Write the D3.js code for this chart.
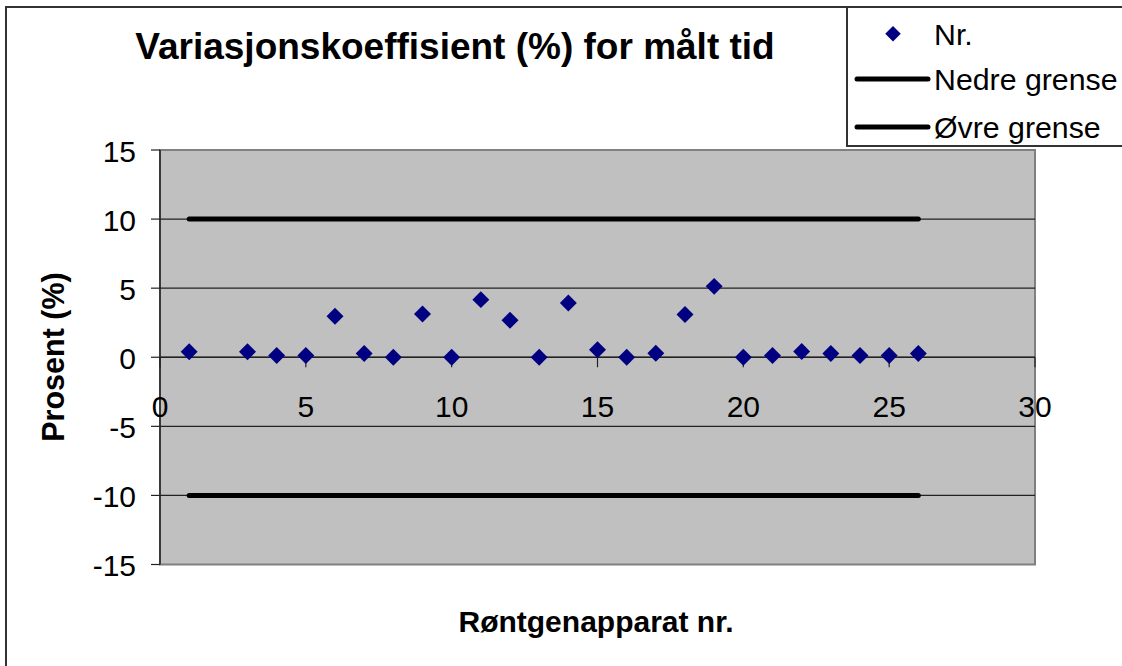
<!DOCTYPE html>
<html>
<head>
<meta charset="utf-8">
<script src="https://cdn.jsdelivr.net/npm/d3@7"></script>
<style>
  html, body { margin: 0; padding: 0; background: #fff; }
  svg { display: block; font-family: "Liberation Sans", Arial, sans-serif; }
</style>
</head>
<body>
<svg id="chart" width="1122" height="666"></svg>
<script>
// ---- Data ----
const apparatNr = [1, 3, 4, 5, 6, 7, 8, 9, 10, 11, 12, 13, 14, 15, 16, 17, 18, 19, 20, 21, 22, 23, 24, 25, 26];
const cvValues  = [0.4, 0.4, 0.12, 0.12, 2.96, 0.27, 0.0, 3.13, 0.0, 4.17, 2.67, 0.0, 3.93, 0.55, 0.0, 0.29, 3.1, 5.13, 0.0, 0.12, 0.41, 0.27, 0.12, 0.12, 0.27];
const limitX    = [1, 26];
const nedreGrense = [-10, -10];
const ovreGrense  = [10, 10];
const xTicks = [0, 5, 10, 15, 20, 25, 30];
const yTicks = [-15, -10, -5, 0, 5, 10, 15];
const titleText = "Variasjonskoeffisient (%) for målt tid";
const xTitle = "Røntgenapparat nr.";
const yTitle = "Prosent (%)";
const legendLabels = ["Nr.", "Nedre grense", "Øvre grense"];

// ---- Layout ----
const svg = d3.select("#chart");
const plot = { left: 160, right: 1035, top: 150, bottom: 564.5 };
const x = d3.scaleLinear().domain([0, 30]).range([plot.left, plot.right]);
const y = d3.scaleLinear().domain([-15, 15]).range([plot.bottom, plot.top]);

// outer chart border
svg.append("rect").attr("x", 6).attr("y", 7).attr("width", 1200).attr("height", 700)
  .attr("fill", "#fff").attr("stroke", "#333").attr("stroke-width", 2);

// plot area background
svg.append("rect").attr("x", plot.left).attr("y", plot.top)
  .attr("width", plot.right - plot.left).attr("height", plot.bottom - plot.top)
  .attr("fill", "#c0c0c0").attr("stroke", "#808080").attr("stroke-width", 2);

// gridlines
svg.append("g").selectAll("line").data(yTicks.filter(d => d > -15 && d < 15)).join("line")
  .attr("x1", plot.left).attr("x2", plot.right)
  .attr("y1", d => y(d)).attr("y2", d => y(d))
  .attr("stroke", "#222").attr("stroke-width", 1.2);

// y axis line + ticks + labels
svg.append("line").attr("x1", plot.left).attr("x2", plot.left)
  .attr("y1", plot.top).attr("y2", plot.bottom).attr("stroke", "#222").attr("stroke-width", 1.5);
const yAx = svg.append("g");
yAx.selectAll("line").data(yTicks).join("line")
  .attr("x1", plot.left - 9).attr("x2", plot.left)
  .attr("y1", d => y(d)).attr("y2", d => y(d))
  .attr("stroke", "#222").attr("stroke-width", 1.2);
yAx.selectAll("text").data(yTicks).join("text")
  .attr("x", 136).attr("y", d => y(d) + 11.5)
  .attr("text-anchor", "end").attr("font-size", 30).attr("fill", "#000")
  .text(d => d);

// x axis at y=0
svg.append("line").attr("x1", plot.left).attr("x2", plot.right)
  .attr("y1", y(0)).attr("y2", y(0)).attr("stroke", "#222").attr("stroke-width", 1.5);
const xAx = svg.append("g");
xAx.selectAll("line").data(xTicks).join("line")
  .attr("x1", d => x(d)).attr("x2", d => x(d))
  .attr("y1", y(0)).attr("y2", y(0) + 10)
  .attr("stroke", "#222").attr("stroke-width", 1.2);
xAx.selectAll("text").data(xTicks).join("text")
  .attr("x", d => x(d)).attr("y", 417)
  .attr("text-anchor", "middle").attr("font-size", 30).attr("fill", "#000")
  .text(d => d);

// limit lines
const lineGen = d3.line().x(d => x(d[0])).y(d => y(d[1]));
[nedreGrense, ovreGrense].forEach(arr => {
  svg.append("path").datum(limitX.map((v, i) => [v, arr[i]]))
    .attr("d", lineGen).attr("fill", "none")
    .attr("stroke", "#000").attr("stroke-width", 5).attr("stroke-linecap", "round");
});

// diamonds
svg.append("g").selectAll("rect").data(apparatNr.map((v, i) => [v, cvValues[i]])).join("rect")
  .attr("x", -6).attr("y", -6).attr("width", 12).attr("height", 12)
  .attr("transform", d => `translate(${x(d[0])},${y(d[1])}) rotate(45)`)
  .attr("fill", "#000080");

// title
svg.append("text").attr("x", 455).attr("y", 59).attr("text-anchor", "middle")
  .attr("font-size", 37).attr("font-weight", "bold").attr("fill", "#000").text(titleText);

// axis titles
svg.append("text").attr("x", 596).attr("y", 632).attr("text-anchor", "middle")
  .attr("font-size", 30).attr("font-weight", "bold").attr("fill", "#000").text(xTitle);
svg.append("text").attr("transform", "translate(64,357) rotate(-90)").attr("text-anchor", "middle")
  .attr("font-size", 30.5).attr("font-weight", "bold").attr("fill", "#000").text(yTitle);

// legend
const lg = svg.append("g");
lg.append("rect").attr("x", 847).attr("y", 7).attr("width", 300).attr("height", 139)
  .attr("fill", "#fff").attr("stroke", "#333").attr("stroke-width", 2);
lg.append("rect").attr("x", -6).attr("y", -6).attr("width", 11).attr("height", 11)
  .attr("transform", "translate(893,34.5) rotate(45)").attr("fill", "#000080");
[79, 127].forEach(yy => {
  lg.append("line").attr("x1", 857).attr("x2", 928).attr("y1", yy).attr("y2", yy)
    .attr("stroke", "#000").attr("stroke-width", 5).attr("stroke-linecap", "round");
});
const legendY = [45, 90, 138];
lg.selectAll("text.l").data(legendLabels).join("text")
  .attr("x", 934).attr("y", (d, i) => legendY[i])
  .attr("font-size", 30.3).attr("fill", "#000").text(d => d);
</script>
</body>
</html>
